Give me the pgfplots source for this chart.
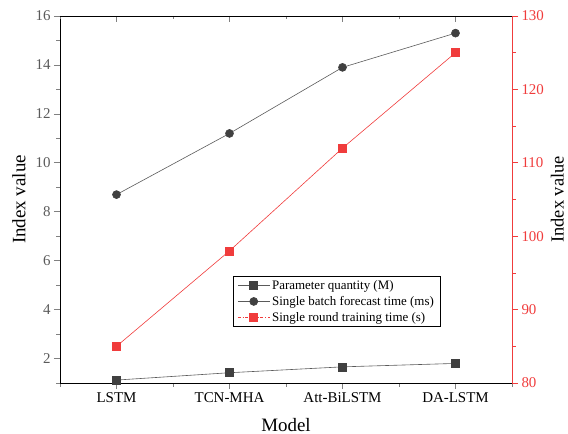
\documentclass[border=0pt]{standalone}
\usepackage{pgfplots}
\pgfplotsset{compat=1.18}
\usepackage{fontspec}
\setmainfont{Liberation Serif}
\definecolor{dgray}{HTML}{404040}
\definecolor{lgray}{HTML}{5A5A5A}
\definecolor{myred}{HTML}{F03C3C}

\begin{document}
\begin{tikzpicture}
\useasboundingbox (-60bp,-51bp) rectangle (508bp,383bp);
\pgfplotsset{
  common/.style={
    width=452bp, height=367bp, scale only axis,
    at={(0,0)}, anchor=south west,
    xmin=-0.5, xmax=3.5,
    /pgf/number format/assume math mode=true,
    yticklabel={\pgfmathprintnumber{\tick}},
    tick label style={font=\fontsize{15}{18}\selectfont},
    major tick length=6bp, minor tick length=3.5bp,
    tick style={line width=0.7bp},
  }
}
% left axis: parameter quantity and batch forecast time
\begin{axis}[common,
  ymin=1, ymax=16, ytick={2,4,...,16}, minor ytick={1,3,...,15},
  xtick={0,1,2,3}, xticklabels={LSTM,TCN-MHA,Att-BiLSTM,DA-LSTM},
  minor xtick={-0.5,0.5,1.5,2.5,3.5},
  xtick pos=bottom, ytick pos=left, tick align=outside,
  axis line style={black, line width=0.8bp},
  yticklabel style={text=lgray},
  xlabel={Model}, ylabel={Index value},
  every axis y label/.append style={at={(axis description cs:-0.091,0.5)}, rotate=0, anchor=center, font=\fontsize{19}{22}\selectfont},
  every axis x label/.append style={at={(axis description cs:0.5,-0.114)}, anchor=center, font=\fontsize{19}{22}\selectfont},
]
\addplot[lgray, line width=0.6bp, mark=square*, mark size=4bp, mark options={dgray, fill=dgray, solid}]
  coordinates {(0,1.12) (1,1.42) (2,1.66) (3,1.80)};
\addplot[lgray, line width=0.6bp, mark=*, mark size=4bp, mark options={dgray, fill=dgray, solid}]
  coordinates {(0,8.7) (1,11.2) (2,13.9) (3,15.3)};
\end{axis}
% top ticks, pointing inward
\begin{axis}[common,
  axis x line*=top, axis y line=none,
  ymin=0, ymax=1,
  xtick={0,1,2,3}, xticklabels={},
  minor xtick={-0.5,0.5,1.5,2.5,3.5},
  tick align=inside,
  axis line style={black, line width=0.8bp},
]
\end{axis}
% right axis: single round training time
\begin{axis}[common,
  axis y line*=right, axis x line=none,
  ymin=80, ymax=130, ytick={80,90,...,130}, minor ytick={85,95,...,125},
  tick align=outside,
  y axis line style={myred, line width=0.8bp},
  tick style={myred, line width=0.7bp},
  yticklabel style={text=myred},
  ylabel={Index value},
  every axis y label/.append style={at={(axis description cs:1.1,0.5)}, rotate=0, anchor=center, font=\fontsize{18.5}{22}\selectfont},
  legend style={at={(axis description cs:0.383,0.292)}, anchor=north west,
    draw=black, line width=0.7bp, font=\fontsize{13}{15}\selectfont,
    inner xsep=4bp, inner ysep=2bp, row sep=1.5bp},
  legend cell align=left,
  legend image code/.code={\draw[mark repeat=2,mark phase=2] plot coordinates {(0bp,0bp)(16bp,0bp)(32bp,0bp)};},
]
\addlegendimage{lgray, line width=0.6bp, mark=square*, mark size=4bp, mark options={dgray, fill=dgray, solid}}
\addlegendentry{Parameter quantity (M)}
\addlegendimage{lgray, line width=0.6bp, mark=*, mark size=4bp, mark options={dgray, fill=dgray, solid}}
\addlegendentry{Single batch forecast time (ms)}
\addlegendimage{myred, line width=0.6bp, dash dot, mark=square*, mark size=4bp, mark options={myred, fill=myred, solid}}
\addlegendentry{Single round training time (s)}
\addplot[myred, line width=0.6bp, mark=square*, mark size=4bp, mark options={myred, fill=myred, solid}, forget plot]
  coordinates {(0,85) (1,98) (2,112) (3,125)};
\end{axis}
\end{tikzpicture}
\end{document}
